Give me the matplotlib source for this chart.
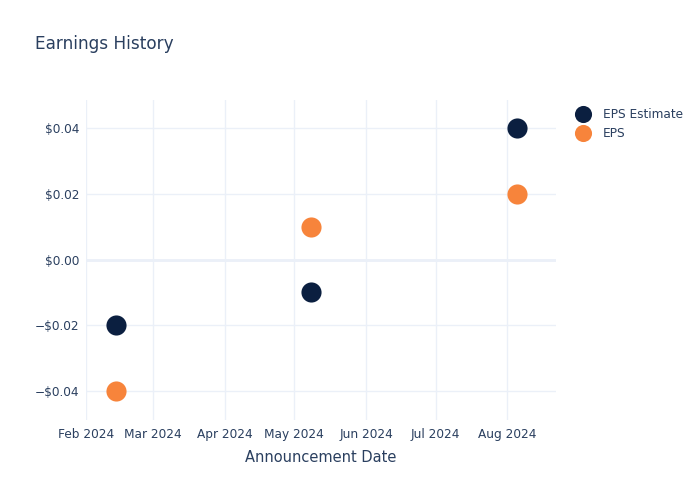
import matplotlib
matplotlib.use("Agg")
import matplotlib.pyplot as plt
import matplotlib.dates as mdates
from matplotlib.ticker import FuncFormatter
import datetime as dt

dates = [dt.date(2024, 2, 14), dt.date(2024, 5, 8), dt.date(2024, 8, 5)]
eps_estimate = [-0.02, -0.01, 0.04]
eps_actual = [-0.04, 0.01, 0.02]
tick_dates = [dt.date(2024, m, 1) for m in range(2, 9)]

TEXT = "#2a3f5f"
GRID = "#ebf0f8"
NAVY = "#0b1f40"
ORANGE = "#f7843b"

plt.rcParams['font.family'] = ['DejaVu Sans']
fig = plt.figure(figsize=(7, 5), dpi=100)
ax = fig.add_axes([86/700, 80/500, (556-86)/700, 320/500])

ax.scatter(dates, eps_estimate, s=210, color=NAVY, label="EPS Estimate", zorder=3, linewidths=0)
ax.scatter(dates, eps_actual, s=210, color=ORANGE, label="EPS", zorder=3, linewidths=0)

ax.set_xlim(dt.date(2024, 2, 1), dt.date(2024, 8, 22))
ax.set_ylim(-0.0488, 0.0485)
ax.set_xticks(tick_dates)
ax.xaxis.set_major_formatter(mdates.DateFormatter("%b %Y"))
ax.set_yticks([-0.04, -0.02, 0.0, 0.02, 0.04])

def fmt(v, pos):
    s = "${:.2f}".format(abs(v))
    return ("\u2212" + s) if v < -1e-9 else s
ax.yaxis.set_major_formatter(FuncFormatter(fmt))

ax.grid(True, color=GRID, linewidth=1, zorder=0)
ax.axhline(0, color=GRID, linewidth=2, zorder=1)
for sp in ax.spines.values():
    sp.set_visible(False)
ax.tick_params(axis='both', length=0, colors=TEXT, labelsize=8.7, pad=6)
ax.tick_params(axis='y', pad=5)
ax.set_xlabel("Announcement Date", color=TEXT, fontsize=10.5, labelpad=6)

fig.text(35/700, 1 - 44/500, "Earnings History", color=TEXT, fontsize=12.2, va='center', ha='left')

leg = ax.legend(loc='upper left', bbox_to_anchor=(1.023, 0.9875), frameon=False,
                fontsize=8.7, labelcolor=TEXT, handletextpad=0.7, borderaxespad=0,
                labelspacing=0.5, markerscale=0.85, borderpad=0.3)

fig.savefig("out.png", dpi=100, facecolor="white")
